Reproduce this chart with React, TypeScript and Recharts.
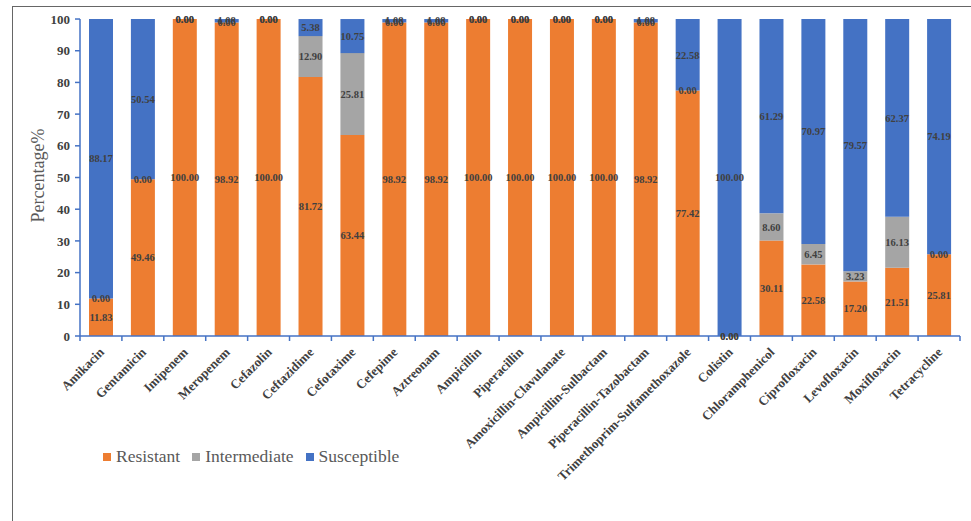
import React from "react";
import { ComposedChart, Bar, Line, XAxis, YAxis, LabelList } from "recharts";

const categories = [
  "Amikacin", "Gentamicin", "Imipenem", "Meropenem", "Cefazolin", "Ceftazidime", "Cefotaxime",
  "Cefepime", "Aztreonam", "Ampicillin", "Piperacillin", "Amoxicillin-Clavulanate",
  "Ampicillin-Sulbactam", "Piperacillin-Tazobactam", "Trimethoprim-Sulfamethoxazole", "Colistin",
  "Chloramphenicol", "Ciprofloxacin", "Levofloxacin", "Moxifloxacin", "Tetracycline",
];
const resistant = [11.83, 49.46, 100, 98.92, 100, 81.72, 63.44, 98.92, 98.92, 100, 100, 100, 100, 98.92, 77.42, 0, 30.11, 22.58, 17.2, 21.51, 25.81];
const intermediate = [0, 0, 0, 0, 0, 12.9, 25.81, 0, 0, 0, 0, 0, 0, 0, 0, 0, 8.6, 6.45, 3.23, 16.13, 0];
const susceptible = [88.17, 50.54, 0, 1.08, 0, 5.38, 10.75, 1.08, 1.08, 0, 0, 0, 0, 1.08, 22.58, 100, 61.29, 70.97, 79.57, 62.37, 74.19];
const yTicks = [0, 10, 20, 30, 40, 50, 60, 70, 80, 90, 100];

const series = [
  { key: "Resistant", color: "#ED7D31" },
  { key: "Intermediate", color: "#A5A5A5" },
  { key: "Susceptible", color: "#4472C4" },
];

// midpoints of each stacked segment, used only to place the value labels (zeros included)
const data = categories.map((name, i) => ({
  name,
  Resistant: resistant[i],
  Intermediate: intermediate[i],
  Susceptible: susceptible[i],
  Resistant_mid: resistant[i] / 2,
  Intermediate_mid: resistant[i] + intermediate[i] / 2,
  Susceptible_mid: resistant[i] + intermediate[i] + susceptible[i] / 2,
}));

const FONT = "'Liberation Serif', 'Times New Roman', serif";
const AXIS = "#4472C4";
const W = 971;
const H = 521;
const MARGIN = { top: 19, right: 11, bottom: 0, left: 0 };
const Y_W = 80;
const BAND = (W - MARGIN.left - MARGIN.right - Y_W) / categories.length;

const XTick = (props: any) => {
  const { x, y, payload, index } = props;
  const tx = x + 4;
  const ty = y + 17;
  return (
    <g>
      <line x1={x - BAND / 2} x2={x - BAND / 2} y1={y} y2={y + 5} stroke={AXIS} strokeWidth={1.5} />
      {index === categories.length - 1 && (
        <line x1={x + BAND / 2} x2={x + BAND / 2} y1={y} y2={y + 5} stroke={AXIS} strokeWidth={1.5} />
      )}
      <text
        x={tx}
        y={ty}
        textAnchor="end"
        transform={`rotate(-45 ${tx} ${ty})`}
        fontFamily={FONT}
        fontWeight="bold"
        fontSize={13}
        fill="#404040"
      >
        {payload.value}
      </text>
    </g>
  );
};

const fmt = (v: any) => Number(v).toFixed(2);

export default function App() {
  return (
    <div style={{ position: "absolute", left: 0, top: 0, width: W, height: H, background: "#fff", overflow: "hidden" }}>
      <div style={{ position: "absolute", left: 12, top: 6, right: -2, bottom: -2, border: "1.5px solid #666" }} />
      <ComposedChart width={W} height={H} data={data} margin={MARGIN} barSize={24}>
        <XAxis
          dataKey="name"
          interval={0}
          height={185}
          tickSize={0}
          tickMargin={0}
          tickLine={false}
          axisLine={{ stroke: AXIS, strokeWidth: 1.5 }}
          tick={<XTick />}
        />
        <YAxis
          width={Y_W}
          domain={[0, 100]}
          ticks={yTicks}
          interval={0}
          tickSize={5}
          tickMargin={5}
          axisLine={{ stroke: AXIS, strokeWidth: 1.5 }}
          tickLine={{ stroke: AXIS, strokeWidth: 1.5 }}
          tick={{ fontFamily: FONT, fontWeight: "bold", fontSize: 13, fill: "#404040" }}
          label={{
            position: "insideLeft",
            content: ({ viewBox }: any) => {
              const cx = viewBox.x + 38;
              const cy = viewBox.y + viewBox.height / 2 - 2;
              return (
                <text
                  x={cx}
                  y={cy}
                  textAnchor="middle"
                  dominantBaseline="central"
                  transform={`rotate(-90 ${cx} ${cy})`}
                  fontFamily={FONT}
                  fontSize={18}
                  fill="#595959"
                >
                  Percentage%
                </text>
              );
            },
          }}
        />
        {series.map((s) => (
          <Bar key={s.key} dataKey={s.key} stackId="a" fill={s.color} isAnimationActive={false} />
        ))}
        {series.map((s) => (
          <Line
            key={s.key + "_lbl"}
            dataKey={s.key + "_mid"}
            stroke="none"
            dot={false}
            activeDot={false}
            legendType="none"
            isAnimationActive={false}
          >
            <LabelList
              dataKey={s.key}
              position="center"
              formatter={fmt}
              style={{ fontFamily: FONT, fontWeight: "bold", fontSize: 10.5, fill: "#404040" }}
            />
          </Line>
        ))}
      </ComposedChart>
      <div
        style={{
          position: "absolute",
          left: 103,
          top: 446,
          display: "flex",
          alignItems: "center",
          fontFamily: FONT,
          fontSize: 17.5,
          color: "#595959",
        }}
      >
        {series.map((s) => (
          <div key={s.key} style={{ display: "flex", alignItems: "center", marginRight: 12 }}>
            <span style={{ width: 8, height: 8, background: s.color, display: "inline-block", marginRight: 5 }} />
            {s.key}
          </div>
        ))}
      </div>
    </div>
  );
}
